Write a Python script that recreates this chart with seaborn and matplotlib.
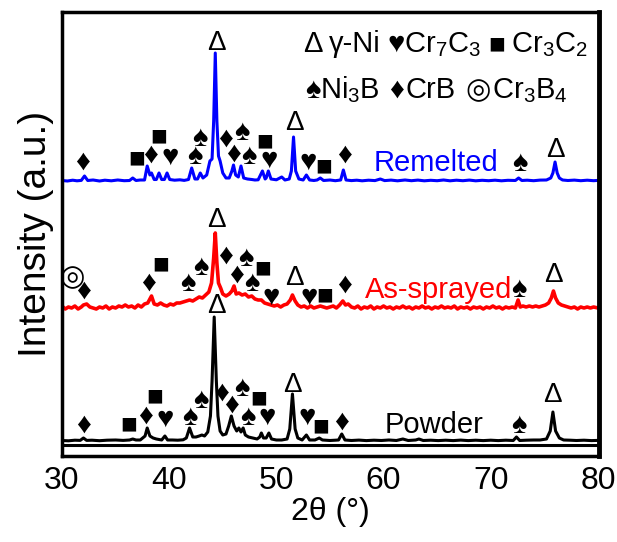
import matplotlib
matplotlib.use("Agg")
import matplotlib.pyplot as plt
from matplotlib.ticker import MultipleLocator
import seaborn as sns
import pandas as pd

# ---------------- data ----------------
# Remelted trace: 2theta and intensity above its own baseline
remelted_x = [30.0, 30.5, 31.0, 31.4, 31.8, 32.1, 32.4, 32.9, 33.5, 34.0, 34.6, 35.2, 35.8, 36.3, 36.6, 36.9,
              37.3, 37.7, 37.95, 38.2, 38.35, 38.6, 38.8, 39.05, 39.3, 39.55, 39.8, 40.05, 40.5, 41.0, 41.4,
              41.8, 42.1, 42.4, 42.65, 42.9, 43.15, 43.5, 43.8, 44.0, 44.15, 44.3, 44.45, 44.6, 44.75, 45.0,
              45.3, 45.6, 45.85, 46.0, 46.2, 46.45, 46.7, 46.95, 47.3, 47.7, 48.0, 48.3, 48.7, 48.95, 49.05,
              49.25, 49.5, 50.0, 50.5, 50.8, 51.2, 51.4, 51.6, 51.8, 52.1, 52.5, 52.8, 53.1, 53.5, 53.8,
              54.1, 54.4, 55.0, 55.5, 56.0, 56.25, 56.5, 57.0, 57.5, 58.0, 58.6, 59.2, 59.7, 60.1, 60.7,
              61.3, 62.0, 62.6, 63.2, 63.8, 64.4, 65.0, 65.6, 66.2, 66.8, 67.4, 68.0, 68.6, 69.2, 69.8,
              70.4, 71.0, 71.6, 72.3, 72.6, 72.9, 73.4, 74.0, 74.6, 75.2, 75.6, 75.8, 76.0, 76.2, 76.4,
              76.7, 77.2, 77.8, 78.4, 79.0, 79.6, 80.0]
remelted_y = [0.5, 0, 0.8, 0.2, 0.6, 5, 0.5, 1, 0, 0.8, 0.2, 1, 0.3, 0.5, 3, 0.5,
              1, 1, 15, 6, 8, 1.5, 1.5, 8, 1.5, 1.5, 8, 1.5, 0.8, 1.2, 0.6,
              1.5, 13, 2, 2, 8, 3, 6, 20, 22, 60, 128, 60, 25, 20, 8,
              3, 3, 10, 16, 6, 4, 15, 3, 2, 1.5, 1, 1.2, 10, 2, 3,
              10, 2, 1.2, 4, 1, 2, 10, 44, 10, 2, 1, 6, 1, 0.5, 1,
              3, 0.5, 1, 0.3, 1, 11, 1, 0.4, 0.8, 0.2, 0.8, 0.4, 2, 0.4, 0.9,
              0.2, 1, 0.3, 0.9, 0.2, 0.7, 0.3, 1, 0.2, 0.8, 0.3, 0.9, 0.2, 0.7, 0.3,
              0.8, 0.2, 0.7, 0.5, 3, 0.5, 0.8, 0.3, 0.9, 1, 3, 8, 19, 8, 3,
              1, 0.5, 0.9, 0.3, 0.8, 0.3, 0.6]

# As-sprayed trace
sprayed_x = [30.0, 30.3, 30.6, 30.9, 31.2, 31.5, 31.8, 32.0, 32.3, 32.6, 32.9, 33.2, 33.5, 33.8, 34.1, 34.4,
             34.7, 35.0, 35.3, 35.6, 35.9, 36.2, 36.5, 36.8, 37.1, 37.4, 37.7, 38.0, 38.35, 38.6, 38.9,
             39.2, 39.5, 39.8, 40.1, 40.4, 40.7, 41.0, 41.3, 41.6, 41.9, 42.2, 42.5, 42.8, 43.1, 43.4,
             43.7, 43.95, 44.15, 44.3, 44.45, 44.6, 44.8, 45.0, 45.3, 45.6, 45.85, 46.05, 46.25, 46.5,
             46.8, 47.1, 47.4, 47.7, 48.0, 48.3, 48.6, 48.9, 49.2, 49.5, 49.8, 50.1, 50.4, 50.7, 51.0,
             51.3, 51.5, 51.75, 52.0, 52.3, 52.6, 52.9, 53.2, 53.5, 53.8, 54.1, 54.4, 54.7, 55.0, 55.3,
             55.6, 55.9, 56.2, 56.45, 56.7, 57.0, 57.3, 57.6, 57.9, 58.2, 58.5, 58.8, 59.1, 59.4, 59.7,
             60.0, 60.3, 60.6, 60.9, 61.2, 61.5, 61.8, 62.1, 62.4, 62.7, 63.0, 63.3, 63.6, 63.9, 64.2,
             64.5, 64.8, 65.1, 65.4, 65.7, 66.0, 66.3, 66.6, 66.9, 67.2, 67.5, 67.8, 68.1, 68.4, 68.7,
             69.0, 69.3, 69.6, 69.9, 70.2, 70.5, 70.8, 71.1, 71.4, 71.7, 72.0, 72.3, 72.55, 72.75, 73.0,
             73.3, 73.6, 73.9, 74.2, 74.5, 74.8, 75.1, 75.4, 75.65, 75.85, 76.05, 76.3, 76.6, 76.9, 77.2,
             77.5, 77.8, 78.1, 78.4, 78.7, 79.0, 79.3, 79.6, 80.0]
sprayed_y = [2, -1, 1, 0, 2, -1, 1, 3, 4, 1, 0, -1, 1, 0, 2, -1,
             1, 0, 2, 1, 3, 1, 2, 0, 3, 1, 4, 5, 12, 4, 3,
             5, 3, 2, 4, 3, 5, 5, 6, 7, 8, 7, 9, 11, 10, 13,
             16, 25, 50, 75, 45, 25, 20, 14, 12, 14, 17, 22, 14, 15,
             13, 14, 11, 12, 9, 8, 8, 5, 4, 3, 2, 3, 1, 3, 4,
             8, 13, 7, 3, 1, 2, 0, 2, 0, 1, 2, 1, 0, 1, 2,
             0, 3, 7, 3, 4, 1, 0, 2, -1, 1, 0, 2, -1, 1, 0,
             2, 0, 1, -1, 1, 0, 2, 0, 1, -1, 1, 0, 2, 0, 1,
             -1, 1, 0, 2, 0, 1, 0, 2, -1, 1, 0, 1, -1, 1, 0,
             1, -1, 1, 0, 2, 0, 1, -1, 1, 0, 1, 0, 8, 1, 2,
             1, 2, 1, 2, 1, 2, 3, 5, 10, 17, 10, 5, 3, 2, 1,
             0, 1, -1, 1, 0, 1, 0, 1, 0]

# Powder trace
powder_x = [30.0, 30.6, 31.2, 31.7, 32.0, 32.3, 32.8, 33.5, 34.2, 35.0, 35.7, 36.3, 36.6, 36.9, 37.3, 37.75,
            37.95, 38.2, 38.5, 38.8, 39.3, 39.6, 39.85, 40.3, 40.8, 41.3, 41.6, 41.9, 42.2, 42.5, 42.8,
            43.05, 43.3, 43.6, 43.85, 44.0, 44.2, 44.4, 44.55, 44.75, 45.0, 45.3, 45.55, 45.8, 46.05, 46.3,
            46.5, 46.7, 46.9, 47.1, 47.4, 47.8, 48.2, 48.45, 48.6, 48.8, 49.05, 49.3, 49.55, 50.0, 50.5,
            51.0, 51.25, 51.5, 51.75, 52.0, 52.4, 52.8, 53.1, 53.6, 54.0, 54.3, 55.0, 55.5, 55.8, 56.1,
            56.4, 57.0, 57.7, 58.4, 59.1, 59.8, 60.5, 61.2, 61.8, 62.3, 63.0, 63.3, 63.7, 64.4, 65.1,
            65.8, 66.5, 67.2, 67.9, 68.6, 69.3, 70.0, 70.7, 71.4, 72.1, 72.4, 72.7, 73.3, 74.0, 74.6,
            75.2, 75.55, 75.8, 76.05, 76.4, 76.8, 77.4, 78.0, 78.7, 79.4, 80.0]
powder_y = [0.5, 0.2, 0.8, 0.6, 3, 0.6, 0.8, 0.3, 0.8, 1, 0.6, 1, 2, 1, 1, 5,
            13, 5, 3, 2, 1, 5, 1, 1, 0.8, 1.2, 3, 13, 4, 4, 5,
            6, 5, 9, 25, 60, 124, 60, 25, 10, 6, 7, 15, 25, 15, 10,
            13, 9, 13, 6, 4, 3, 2, 4, 8, 3, 3, 8, 2, 1, 1,
            2, 12, 47, 12, 3, 1, 6, 1, 1, 3, 1, 0.5, 0.8, 1, 7,
            1, 0.5, 0.9, 0.4, 0.8, 0.5, 1, 0.5, 2, 0.5, 1, 2, 0.5, 0.8, 0.4,
            0.8, 0.4, 0.9, 0.4, 0.8, 0.4, 0.8, 0.4, 0.8, 0.5, 4, 0.5, 0.8, 1, 1,
            2, 10, 29, 10, 3, 1, 0.8, 0.5, 0.8, 0.4, 0.6]

series_names = ["Powder", "As-sprayed", "Remelted"]
series_offsets = [15, 148, 275]
series_colors = ["#000000", "#ff0000", "#0000ff"]
tick_values = [30, 40, 50, 60, 70, 80]

# phase marks: (symbol, 2theta, height in plot units)
marks = [
    # Remelted
    ("♦", 31.93, 294), ("■", 36.97, 297), ("♦", 38.27, 301), ("■", 38.98, 319), ("♥", 40.07, 299),
    ("♠", 42.41, 300), ("♠", 42.87, 318), ("♦", 45.27, 317), ("♦", 45.98, 302), ("♠", 46.82, 324),
    ("♠", 47.47, 300), ("■", 48.87, 314), ("♥", 49.28, 296), ("♥", 52.92, 294), ("■", 54.37, 289),
    ("♦", 56.31, 301), ("♠", 72.72, 293),
    # As-sprayed
    ("◎", 30.90, 179), ("♦", 32.05, 165), ("♦", 38.09, 173), ("■", 39.24, 191), ("♠", 41.78, 173),
    ("♠", 42.94, 189), ("♦", 45.30, 200), ("♦", 46.30, 181), ("♠", 47.16, 198), ("♠", 47.70, 173),
    ("■", 48.68, 187), ("♥", 49.47, 159), ("♥", 53.04, 159), ("■", 54.47, 160), ("♦", 56.31, 171),
    ("♠", 72.66, 167),
    # Powder
    ("♦", 31.99, 31), ("■", 36.25, 31), ("♦", 37.81, 40), ("■", 38.61, 59), ("♥", 39.61, 37),
    ("♠", 41.94, 39), ("♠", 42.94, 56), ("♦", 44.90, 63), ("♦", 45.77, 51), ("♠", 46.76, 68),
    ("♠", 47.32, 39), ("■", 48.31, 57), ("♥", 49.12, 39), ("♥", 52.89, 39), ("■", 54.13, 29),
    ("♦", 56.09, 34), ("♠", 72.66, 31),
]
gamma_marks = [(44.39, 413), (51.71, 333), (75.99, 306),
               (44.39, 236), (51.67, 178), (75.83, 181),
               (44.39, 150), (51.48, 71), (75.77, 61)]
label_pos = [(64.70, 31), (65.11, 166), (64.89, 293)]

# legend pieces: (text, is_symbol, gap before in pixels)
legend_row1 = [("Δ", False, 0), ("γ-Ni", False, 6), ("♥", True, 7), ("Cr$_7$C$_3$", False, 0),
               ("■", True, 7), ("Cr$_3$C$_2$", False, 6)]
legend_row2 = [("♠", True, 0), ("Ni$_3$B", False, 0), ("♦", True, 9), ("CrB", False, 1),
               ("◎", True, 10), ("Cr$_3$B$_4$", False, 1)]

# ---------------- plotting ----------------
sns.set_style("white")
FONT = ["Liberation Sans", "DejaVu Sans"]
plt.rcParams["font.family"] = FONT
plt.rcParams["mathtext.fontset"] = "custom"
plt.rcParams["mathtext.rm"] = "Liberation Sans"
plt.rcParams["mathtext.it"] = "Liberation Sans:italic"
plt.rcParams["mathtext.default"] = "regular"
plt.rcParams["text.color"] = "black"
plt.rcParams["axes.labelcolor"] = "black"
plt.rcParams["xtick.color"] = "black"

SYM_SIZE = {"♦": 21, "♠": 21, "♥": 21, "■": 20, "◎": 21}

fig = plt.figure(figsize=(6.17, 5.42), dpi=100)
ax = fig.add_axes([62 / 617, 1 - 456 / 542, 537 / 617, 444 / 542])

traces = [(powder_x, powder_y), (sprayed_x, sprayed_y), (remelted_x, remelted_y)]
widths = [2.2, 2.6, 2.2]
for (xs, ys), name, off, col, lw in zip(traces, series_names, series_offsets, series_colors, widths):
    df = pd.DataFrame({"2theta": xs, "I": [v + off for v in ys]})
    sns.lineplot(data=df, x="2theta", y="I", color=col, lw=lw, ax=ax,
                 estimator=None, sort=False, legend=False)

ax.axhline(11, color="black", lw=2.2)

for sym, x, y in marks:
    ax.text(x, y, sym, ha="center", va="center", fontsize=SYM_SIZE[sym], family=FONT, color="black")
for x, y in gamma_marks:
    ax.text(x, y, "Δ", ha="center", va="center", fontsize=20, family=FONT, color="black")
for (x, y), name, col in zip(label_pos, series_names, series_colors):
    ax.text(x, y, name, ha="center", va="center", fontsize=21, color=col, family=FONT)

ax.set_xlim(30, 80.1)
ax.set_ylim(0, 444)
ax.set_xticks(tick_values)
ax.set_xticklabels([str(t) for t in tick_values])
ax.xaxis.set_minor_locator(MultipleLocator(2))
ax.set_yticks([])
ax.tick_params(axis="x", which="major", direction="in", length=8, width=2, labelsize=23, pad=7,
               labelcolor="black")
ax.tick_params(axis="x", which="minor", direction="in", length=3, width=2)
for s in ax.spines.values():
    s.set_linewidth(2.5)
    s.set_color("black")
ax.spines["right"].set_linewidth(3.5)

ax.set_xlabel("2θ (°)", fontsize=23, labelpad=1, color="black")
ax.set_ylabel("Intensity (a.u.)", fontsize=28, labelpad=6, color="black")

# legend rows laid out piece by piece on a common baseline
fig.canvas.draw()
renderer = fig.canvas.get_renderer()
for row, yb, x_start in ((legend_row1, 0.910, 303), (legend_row2, 0.806, 305)):
    x = x_start
    for txt, is_sym, gap in row:
        size = SYM_SIZE[txt] if is_sym else 21
        t = ax.text(0, yb, txt, transform=ax.transAxes, ha="left", va="baseline",
                    fontsize=size, family=FONT, color="black")
        x += gap
        t.set_x((x - ax.bbox.x0) / ax.bbox.width)
        x += t.get_window_extent(renderer).width

fig.savefig("out.png", dpi=100)
